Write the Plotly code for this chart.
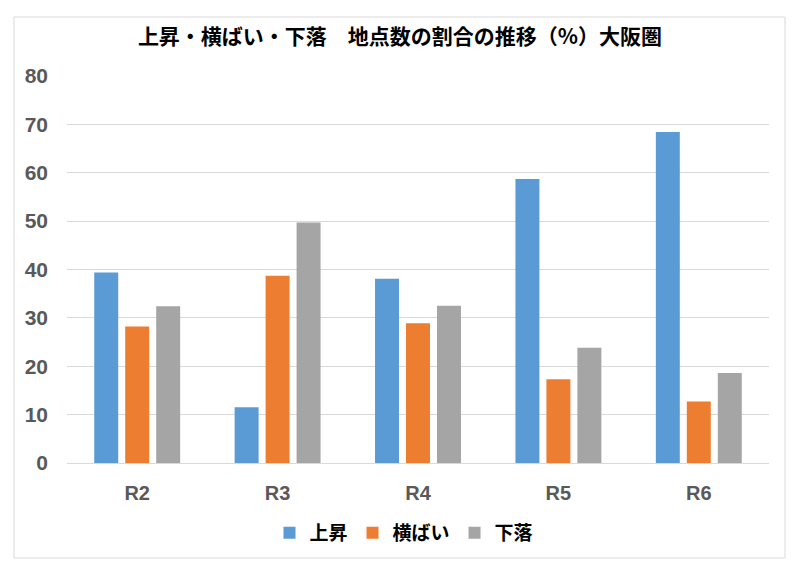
import plotly.graph_objects as go

categories = ["R2", "R3", "R4", "R5", "R6"]
up = [39.4, 11.5, 38.1, 58.7, 68.4]
flat = [28.2, 38.7, 28.9, 17.3, 12.7]
down = [32.4, 49.7, 32.5, 23.8, 18.6]
series_names = ["上昇", "横ばい", "下落"]
colors = ["#5B9BD5", "#ED7D31", "#A5A5A5"]

FONT = "Noto Sans CJK JP"
NUMFONT = "Liberation Sans"
W, H = 800, 579
L, R, T, B = 67, 31, 76, 116

fig = go.Figure()
for name, vals, c in zip(series_names, [up, flat, down], colors):
    fig.add_trace(go.Bar(x=categories, y=vals, name="<b>" + name + "</b>",
                         marker=dict(color=c, line=dict(width=0))))

pw = W - L - R
ph = H - T - B
fig.add_shape(type="rect", xref="paper", yref="paper",
              x0=(14 - L) / pw, x1=(785 - L) / pw,
              y0=(H - B - 558) / ph, y1=(H - B - 17) / ph,
              line=dict(color="#D9D9D9", width=1), layer="below")

fig.update_layout(
    width=W, height=H,
    margin=dict(l=L, r=R, t=T, b=B),
    paper_bgcolor="white", plot_bgcolor="white",
    barmode="group", bargap=0.338, bargroupgap=0.226,
    title=dict(text="<b>上昇・横ばい・下落　地点数の割合の推移（%）大阪圏</b>",
               x=0.5, xanchor="center", y=1 - 37 / H, yanchor="middle",
               font=dict(family=FONT, size=21, color="#000000")),
    font=dict(family=FONT),
    yaxis=dict(range=[0, 80], dtick=10, showgrid=True, gridcolor="#D9D9D9", gridwidth=1,
               zeroline=False, showline=False, ticks="",
               tickfont=dict(family=NUMFONT, size=21, color="#595959"),
               ticklabelstandoff=18, tickprefix="<b>", ticksuffix="</b>"),
    xaxis=dict(showline=True, linecolor="#D9D9D9", linewidth=1, ticks="",
               tickfont=dict(family=NUMFONT, size=20, color="#595959"),
               ticklabelstandoff=12,
               tickprefix="<b>", ticksuffix="</b>"),
    legend=dict(orientation="h", x=0.5 - 14 / pw, xanchor="center", y=-(533 - (H - B)) / ph, yanchor="middle",
                font=dict(family=FONT, size=19, color="#000000"), itemwidth=30,
                traceorder="normal"),
)

fig.write_html("out.html")
